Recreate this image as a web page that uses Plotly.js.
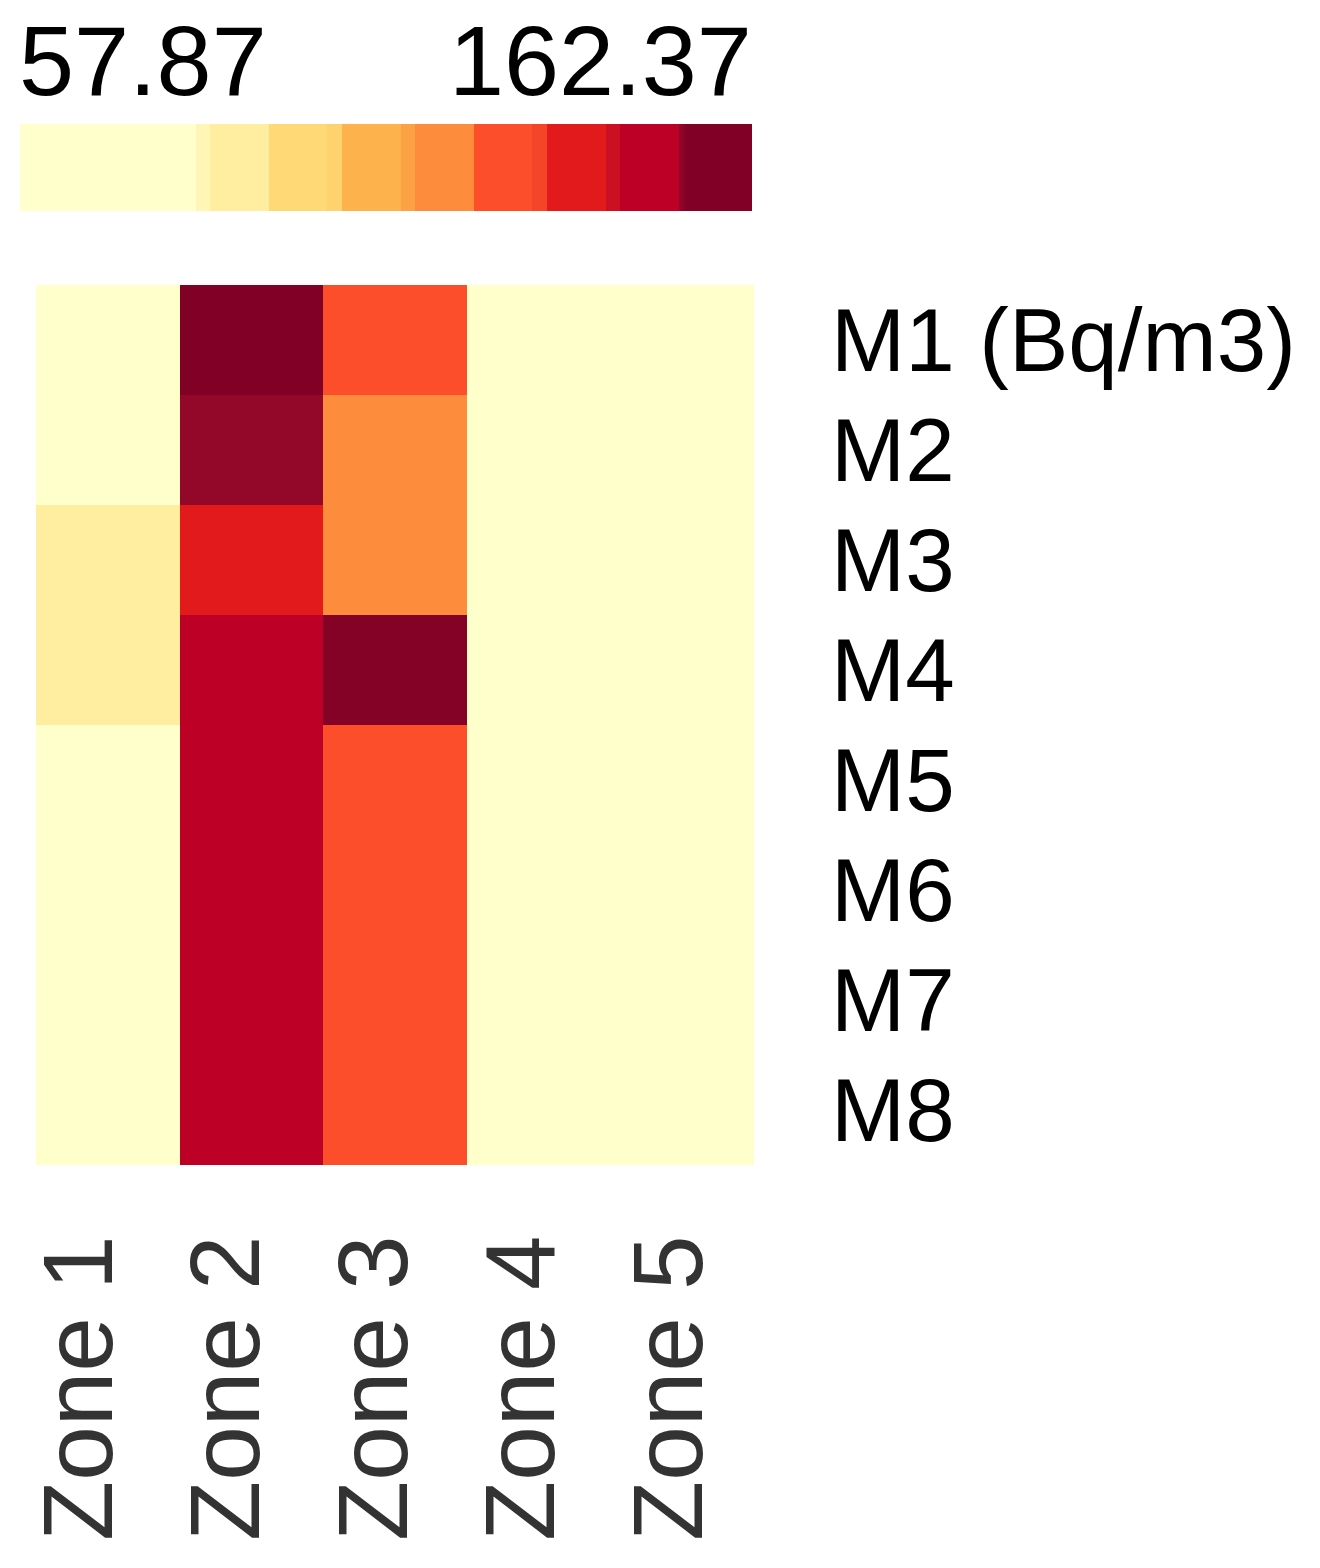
<!DOCTYPE html>
<html>
<head>
<meta charset="utf-8">
<script src="https://cdn.plot.ly/plotly-3.0.1.min.js"></script>
<style>
  html, body { margin: 0; padding: 0; background: #fff; }
  #chart { width: 1320px; height: 1568px; }
</style>
</head>
<body>
<div id="chart"></div>
<script>
// Zones (columns) and measurement rows
const zones = ['Zone 1', 'Zone 2', 'Zone 3', 'Zone 4', 'Zone 5'];
const rows = ['M1 (Bq/m3)', 'M2', 'M3', 'M4', 'M5', 'M6', 'M7', 'M8'];

const m1 = [76.4, 162.37, 127.8, 64.2, 57.87];
const m2 = [74.9, 152.05, 118.6, 63.5, 59.1];
const m3 = [89.3, 137.2, 119.1, 66.0, 60.4];
const m4 = [88.7, 147.9, 152.9, 65.1, 61.2];
const m5 = [77.5, 147.3, 126.9, 63.8, 60.0];
const m6 = [78.1, 147.6, 127.2, 64.7, 60.8];
const m7 = [77.2, 146.8, 126.5, 63.2, 59.6];
const m8 = [78.6, 148.2, 127.6, 64.9, 61.0];
const values = [m1, m2, m3, m4, m5, m6, m7, m8];

// Legend range
const zmin = 57.87;
const zmax = 162.37;

// Binned YlOrRd palette as shown in the legend strip
const palette = [
  [0.00, '#FFFFCC'], [0.24, '#FFFFCC'],
  [0.24, '#FFF6B5'], [0.26, '#FFF6B5'],
  [0.26, '#FFEDA0'], [0.34, '#FFEDA0'],
  [0.34, '#FED976'], [0.42, '#FED976'],
  [0.42, '#FED26E'], [0.44, '#FED26E'],
  [0.44, '#FEB24C'], [0.52, '#FEB24C'],
  [0.52, '#FDA145'], [0.54, '#FDA145'],
  [0.54, '#FD8D3C'], [0.62, '#FD8D3C'],
  [0.62, '#FC4E2A'], [0.70, '#FC4E2A'],
  [0.70, '#F44529'], [0.72, '#F44529'],
  [0.72, '#E31A1C'], [0.80, '#E31A1C'],
  [0.80, '#CB1024'], [0.82, '#CB1024'],
  [0.82, '#BD0026'], [0.90, '#BD0026'],
  [0.90, '#950829'], [0.912, '#800026'],
  [1.00, '#800026']
];

const FONT = 'Liberation Sans, Arial, sans-serif';

const heat = {
  type: 'heatmap',
  x: zones,
  y: rows,
  z: values,
  zmin: zmin,
  zmax: zmax,
  colorscale: palette,
  xgap: 0,
  ygap: 0,
  hovertemplate: '%{y}<br>%{x}: %{z:.2f}<extra></extra>',
  colorbar: {
    orientation: 'h',
    xref: 'container',
    yref: 'container',
    x: 37 / 1320,
    xanchor: 'left',
    y: 1 - 124 / 1568,
    yanchor: 'top',
    len: 732,
    lenmode: 'pixels',
    thickness: 87,
    thicknessmode: 'pixels',
    xpad: 0,
    ypad: 0,
    outlinewidth: 0,
    borderwidth: 0,
    ticks: '',
    showticklabels: false
  }
};

// Invisible carrier for the zone labels axis
const zoneLabels = {
  type: 'scatter',
  mode: 'markers',
  x: zones.map((_, i) => i),
  y: zones.map(() => rows[0]),
  xaxis: 'x2',
  yaxis: 'y',
  marker: { opacity: 0 },
  hoverinfo: 'skip',
  showlegend: false
};

const layout = {
  width: 1320,
  height: 1568,
  margin: { l: 36, r: 566, t: 285, b: 403, pad: 0 },
  paper_bgcolor: '#ffffff',
  plot_bgcolor: '#ffffff',
  font: { family: FONT, color: '#000' },
  showlegend: false,
  xaxis: {
    type: 'category',
    showticklabels: false,
    showgrid: false,
    zeroline: false,
    showline: false,
    ticks: ''
  },
  xaxis2: {
    overlaying: 'x',
    anchor: 'y',
    side: 'bottom',
    range: [-0.298, 4.57],
    tickvals: zones.map((_, i) => i),
    ticktext: zones,
    tickangle: -90,
    tickfont: { family: FONT, size: 98, color: '#333333' },
    ticklabelstandoff: 50,
    showgrid: false,
    zeroline: false,
    showline: false,
    ticks: ''
  },
  yaxis: {
    type: 'category',
    autorange: 'reversed',
    side: 'right',
    tickfont: { family: FONT, size: 89, color: '#000' },
    ticklabelstandoff: 76,
    showgrid: false,
    zeroline: false,
    showline: false,
    ticks: ''
  },
  annotations: [
    {
      text: zmin.toFixed(2),
      xref: 'paper', yref: 'paper',
      x: -19 / 718, y: (1165 - 60) / 880,
      xanchor: 'left', yanchor: 'middle',
      showarrow: false,
      font: { family: FONT, size: 99, color: '#000' }
    },
    {
      text: zmax.toFixed(2),
      xref: 'paper', yref: 'paper',
      x: 1, y: (1165 - 60) / 880,
      xanchor: 'right', yanchor: 'middle',
      showarrow: false,
      font: { family: FONT, size: 99, color: '#000' }
    }
  ]
};

Plotly.newPlot('chart', [heat, zoneLabels], layout, { displayModeBar: false, staticPlot: true });
</script>
</body>
</html>
